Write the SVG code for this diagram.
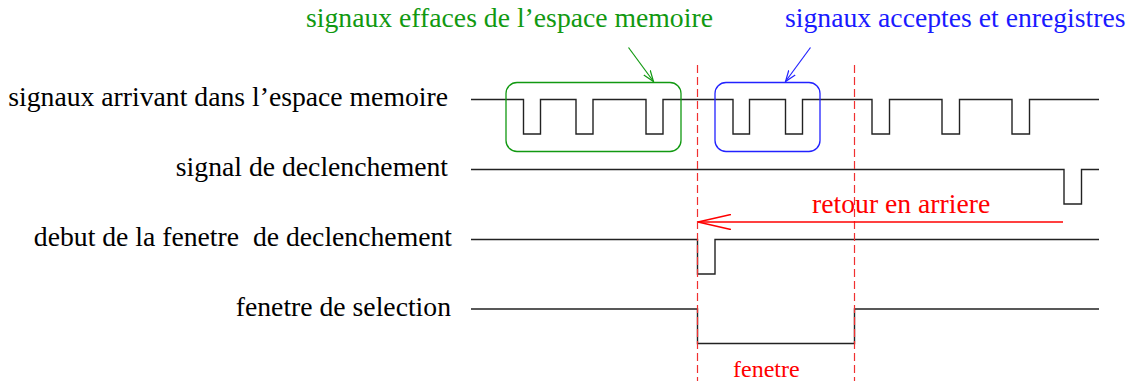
<svg xmlns="http://www.w3.org/2000/svg" width="1135" height="381" viewBox="0 0 1135 381">
<defs>
<style>
text{font-family:"Liberation Serif","Times New Roman",serif;font-size:27.7px}
text.small{font-size:24px}
.lbl{text-anchor:end;fill:#000}
.sig{fill:none;stroke:#222;stroke-width:1.4}
.dash{fill:none;stroke:#f03030;stroke-width:1.2;stroke-dasharray:8,4}
</style>
<marker id="ag" viewBox="0 0 12 12" refX="11" refY="6" markerWidth="12" markerHeight="12" markerUnits="userSpaceOnUse" orient="auto"><path d="M0,2 L11,6 L0,10" fill="none" stroke="#119911" stroke-width="1.2"/></marker>
<marker id="ab" viewBox="0 0 12 12" refX="11" refY="6" markerWidth="12" markerHeight="12" markerUnits="userSpaceOnUse" orient="auto"><path d="M0,2 L11,6 L0,10" fill="none" stroke="#2222ff" stroke-width="1.2"/></marker>
<marker id="ar" viewBox="0 0 34 16" refX="33" refY="8" markerWidth="34" markerHeight="16" markerUnits="userSpaceOnUse" orient="auto"><path d="M0,0.5 L33,8 L0,15.5" fill="none" stroke="#ff0000" stroke-width="1.6"/></marker>
</defs>
<g id="labels">
<text class="lbl" x="448" y="106">signaux arrivant dans l’espace memoire</text>
<text class="lbl" x="448" y="176">signal de declenchement</text>
<text class="lbl" x="452" y="246">debut de la fenetre&#160; de declenchement</text>
<text class="lbl" x="451" y="316">fenetre de selection</text>
</g>
<g id="signal-memoire">
<path class="sig" d="M471,99.5 H523.5 V134 H540.5 V99.5 H576 V134 H593 V99.5 H646 V134 H663 V99.5 H733 V134 H749.5 V99.5 H785.5 V134 H802.5 V99.5 H872 V134 H889.5 V99.5 H942 V134 H959.5 V99.5 H1012 V134 H1029.5 V99.5 H1099"/>
</g>
<g id="signal-declenchement">
<path class="sig" d="M471,169.5 H1064 V204 H1081.5 V169.5 H1099"/>
</g>
<g id="signal-debut">
<path class="sig" d="M471,239.5 H697.5 V274 H715 V239.5 H1099"/>
</g>
<g id="signal-selection">
<path class="sig" d="M471,309 H697.5 V343.5 H854.5 V309 H1099"/>
</g>
<g id="box-effaces">
<rect x="506" y="82.5" width="175" height="69" rx="11" ry="11" fill="none" stroke="#119911" stroke-width="1.3"/>
<text x="306" y="27" fill="#119911">signaux effaces de l’espace memoire</text>
</g>
<g id="box-acceptes">
<rect x="715" y="82.5" width="105" height="69" rx="11" ry="11" fill="none" stroke="#2222ff" stroke-width="1.3"/>
<text x="785" y="27" fill="#1a1aff">signaux acceptes et enregistres</text>
</g>
<g id="fenetre">
<line class="dash" x1="697.5" y1="65" x2="697.5" y2="381"/>
<line class="dash" x1="854.5" y1="65" x2="854.5" y2="381"/>
<text class="small" x="733" y="377" fill="#ff0000">fenetre</text>
</g>
<g id="retour">
<text x="812" y="213" fill="#ff0000">retour en arriere</text>
</g>
<g id="connectors">
<line x1="628.5" y1="47.5" x2="653.5" y2="81.5" stroke="#119911" stroke-width="1.2" marker-end="url(#ag)"/>
<line x1="810.5" y1="47.5" x2="785.5" y2="81.5" stroke="#2222ff" stroke-width="1.2" marker-end="url(#ab)"/>
<line x1="1063" y1="222" x2="698" y2="222" stroke="#ff0000" stroke-width="1.6" marker-end="url(#ar)"/>
</g>
</svg>
